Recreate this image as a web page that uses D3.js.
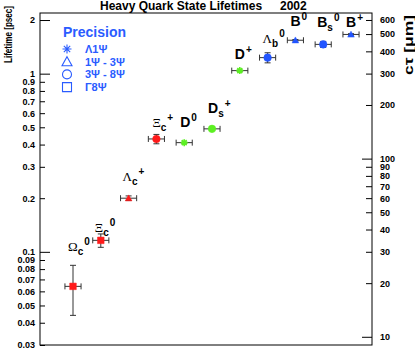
<!DOCTYPE html>
<html>
<head>
	<meta charset="utf-8">
	<title>Heavy Quark State Lifetimes</title>
	<style>
		body { margin: 0; background: #fff; }
		text { font-family: "Liberation Sans", Arial, sans-serif; }
	</style>
</head>

<body>
	<script src="https://cdn.jsdelivr.net/npm/d3@7"></script>
	<script>
// particles, left to right
var labelMain = ['Ω', 'Ξ', 'Λ', 'Ξ', 'D', 'D', 'D', 'Λ', 'B', 'B', 'B'];
var labelSub  = ['c', 'c', 'c', 'c', '', 's', '', 'b', '', 's', ''];
var labelSup  = ['0', '0', '+', '+', '0', '+', '+', '0', '0', '0', '+'];
var family    = ['cBaryon', 'cBaryon', 'cBaryon', 'cBaryon', 'cMeson', 'cMeson', 'cMeson', 'b', 'b', 'b', 'b'];
// lifetime in ps
var lifetime    = [0.064, 0.116, 0.200, 0.430, 0.410, 0.490, 1.040, 1.230, 1.540, 1.460, 1.660];
var lifetimeErr = [0.020, 0.010, 0.006, 0.026, 0.002, 0.009, 0.007, 0.080, 0.015, 0.057, 0.016];
var precision   = ['gt8', 'gt8', '1to3', '3to8', 'lt1', '3to8', 'lt1', '3to8', '1to3', '3to8', '1to3'];

var legendKeys   = ['lt1', '1to3', '3to8', 'gt8'];
var legendLabels = ['Λ1Ψ', '1Ψ - 3Ψ', '3Ψ - 8Ψ', 'Γ8Ψ'];

var leftTicks  = [0.03, 0.04, 0.05, 0.06, 0.07, 0.08, 0.09, 0.1, 0.2, 0.3, 0.4, 0.5, 0.6, 0.7, 0.8, 0.9, 1, 2];
var rightTicks = [10, 20, 30, 40, 50, 60, 70, 80, 90, 100, 200, 300, 400, 500, 600];

// label placement (px, relative to the point)
var labelOffsets = [[-5, -35], [-6, -8], [-6, -17], [-4, -12], [-4, -16], [-4, -16], [-5, -12], [-5, -15], [-5, -14], [-6, -17], [-5, -7]];

var C_UM_PER_PS = 299.792;
var colors = { cBaryon: '#ff1a1a', cMeson: '#5cf022', b: '#2255ff' };
var blue = '#2a5cff';

var W = 415, H = 351;
var frameL = 40, frameR = 372, frameT = 13, frameB = 345;

var svg = d3.select('body').append('svg')
			.attr('width', W)
			.attr('height', H);

var x = d3.scaleLinear().domain([1, lifetime.length]).range([73, 351]);
var y = d3.scaleLog().domain([0.03, 2.19]).range([frameB, frameT]);
var y2 = d3.scaleLog().domain([0.03 * C_UM_PER_PS, 2.19 * C_UM_PER_PS]).range([frameB, frameT]);

// title
svg.append('text').attr('x', 100).attr('y', 10)
	.style('font-size', '12px').style('font-weight', 'bold')
	.text('Heavy Quark State Lifetimes');
svg.append('text').attr('x', 280).attr('y', 10)
	.style('font-size', '12px').style('font-weight', 'bold')
	.text('2002');

// axes
var leftAxis = d3.axisLeft(y).tickValues(leftTicks).tickSizeInner(-5).tickSizeOuter(0).tickPadding(5)
	.tickFormat(function(d) { return String(d); });
var gl = svg.append('g').attr('transform', 'translate(' + frameL + ',0)').call(leftAxis);
gl.select('.domain').remove();
gl.selectAll('.tick line').attr('x2', function(d) { return (d == 0.1 || d == 1 || d == 2) ? 10 : 5; });

var rightAxis = d3.axisRight(y2).tickValues(rightTicks).tickSizeInner(-6).tickSizeOuter(0).tickPadding(8)
	.tickFormat(function(d) { return String(d); });
var gr = svg.append('g').attr('transform', 'translate(' + frameR + ',0)').call(rightAxis);
gr.select('.domain').remove();
gr.selectAll('.tick line').attr('x2', function(d) { return (d == 10 || d == 100) ? -10 : -6; });

svg.selectAll('.tick text').style('font-size', '9px').style('font-weight', 'bold').attr('fill', '#000');
svg.selectAll('.tick line').attr('stroke', '#000');

svg.append('rect')
	.attr('x', frameL).attr('y', frameT)
	.attr('width', frameR - frameL).attr('height', frameB - frameT)
	.attr('fill', 'none').attr('stroke', '#000').attr('stroke-width', 1);

// axis titles
svg.append('text')
	.attr('transform', 'translate(12,6) rotate(-90)')
	.attr('text-anchor', 'end')
	.attr('textLength', 57).attr('lengthAdjust', 'spacingAndGlyphs')
	.style('font-size', '11px').style('font-weight', 'bold')
	.text('Lifetime [psec]');
svg.append('text')
	.attr('transform', 'translate(413,15) rotate(-90)')
	.attr('text-anchor', 'end')
	.attr('textLength', 60).attr('lengthAdjust', 'spacingAndGlyphs')
	.style('font-size', '12px').style('font-weight', 'bold')
	.text('cτ  [μm]');

// markers
function markerPath(kind, s) {
	if (kind == 'lt1') {
		var p = '';
		for (var k = 0; k < 4; k++) {
			var a = k * Math.PI / 4;
			p += 'M' + (-s * Math.cos(a)) + ',' + (-s * Math.sin(a)) + 'L' + (s * Math.cos(a)) + ',' + (s * Math.sin(a));
		}
		return p;
	}
	if (kind == '1to3') return 'M0,' + (-s) + 'L' + (s) + ',' + (s * 0.8) + 'L' + (-s) + ',' + (s * 0.8) + 'Z';
	if (kind == '3to8') return d3.symbol().type(d3.symbolCircle).size(Math.PI * s * s)();
	return 'M' + (-s) + ',' + (-s) + 'H' + s + 'V' + s + 'H' + (-s) + 'Z';
}

var idx = d3.range(lifetime.length);
var xErr = 0.29, cap = 3;

var pts = svg.selectAll('g.pt').data(idx).enter().append('g').attr('class', 'pt');

// horizontal bars
pts.append('path')
	.attr('stroke', '#333').attr('fill', 'none').attr('stroke-width', 1)
	.attr('d', function(i) {
		var cy = y(lifetime[i]), x0 = x(i + 1 - xErr), x1 = x(i + 1 + xErr);
		return 'M' + x0 + ',' + cy + 'H' + x1 +
			'M' + x0 + ',' + (cy - cap) + 'V' + (cy + cap) +
			'M' + x1 + ',' + (cy - cap) + 'V' + (cy + cap);
	});
// vertical bars
pts.append('path')
	.attr('stroke', '#333').attr('fill', 'none').attr('stroke-width', 1)
	.attr('d', function(i) {
		var cx = x(i + 1), y0 = y(lifetime[i] + lifetimeErr[i]), y1 = y(lifetime[i] - lifetimeErr[i]);
		return 'M' + cx + ',' + y0 + 'V' + y1 +
			'M' + (cx - cap) + ',' + y0 + 'H' + (cx + cap) +
			'M' + (cx - cap) + ',' + y1 + 'H' + (cx + cap);
	});

pts.append('path')
	.attr('transform', function(i) { return 'translate(' + x(i + 1) + ',' + y(lifetime[i]) + ')'; })
	.attr('d', function(i) { return markerPath(precision[i], precision[i] == 'lt1' ? 3.5 : (precision[i] == '3to8' ? 3.8 : 3.3)); })
	.attr('fill', function(i) { return precision[i] == 'lt1' ? 'none' : colors[family[i]]; })
	.attr('stroke', function(i) { return colors[family[i]]; })
	.attr('stroke-width', function(i) { return precision[i] == 'lt1' ? 1.6 : 0.5; });

// particle labels
var greek = { 'Ω': 1, 'Ξ': 1, 'Λ': 1 };
var lab = pts.append('text')
	.attr('x', function(i) { return x(i + 1) + labelOffsets[i][0]; })
	.attr('y', function(i) { return y(lifetime[i]) + labelOffsets[i][1]; })
	.attr('fill', '#000');
lab.append('tspan')
	.style('font-family', function(i) { return greek[labelMain[i]] ? '"Liberation Serif", serif' : null; })
	.style('font-size', function(i) { return greek[labelMain[i]] ? '13px' : '14px'; })
	.style('font-weight', function(i) { return greek[labelMain[i]] ? 'normal' : 'bold'; })
	.text(function(i) { return labelMain[i]; });
lab.append('tspan')
	.attr('dy', function(i) { return labelSub[i] ? 4 : 0; })
	.style('font-size', '10px').style('font-weight', 'bold')
	.text(function(i) { return labelSub[i]; });
lab.append('tspan')
	.attr('dy', function(i) { return labelSub[i] ? -10 : -6; })
	.attr('dx', 1)
	.style('font-size', '10px').style('font-weight', 'bold')
	.text(function(i) { return labelSup[i]; });

// legend
svg.append('text').attr('x', 63).attr('y', 37)
	.attr('fill', blue)
	.style('font-size', '14px').style('font-weight', 'bold')
	.text('Precision');
var lg = svg.selectAll('g.leg').data(legendKeys).enter().append('g').attr('class', 'leg')
	.attr('transform', function(d, i) { return 'translate(0,' + (49 + i * 12.7) + ')'; });
lg.append('path')
	.attr('transform', 'translate(67,0)')
	.attr('d', function(d) { return markerPath(d, d == '1to3' ? 5 : 4.5); })
	.attr('fill', 'none').attr('stroke', blue).attr('stroke-width', 1.1);
lg.append('text').attr('x', 85).attr('y', 4)
	.attr('fill', blue)
	.style('font-size', '11px').style('font-weight', 'bold')
	.text(function(d, i) { return legendLabels[i]; });

	</script>
</body>
</html>
